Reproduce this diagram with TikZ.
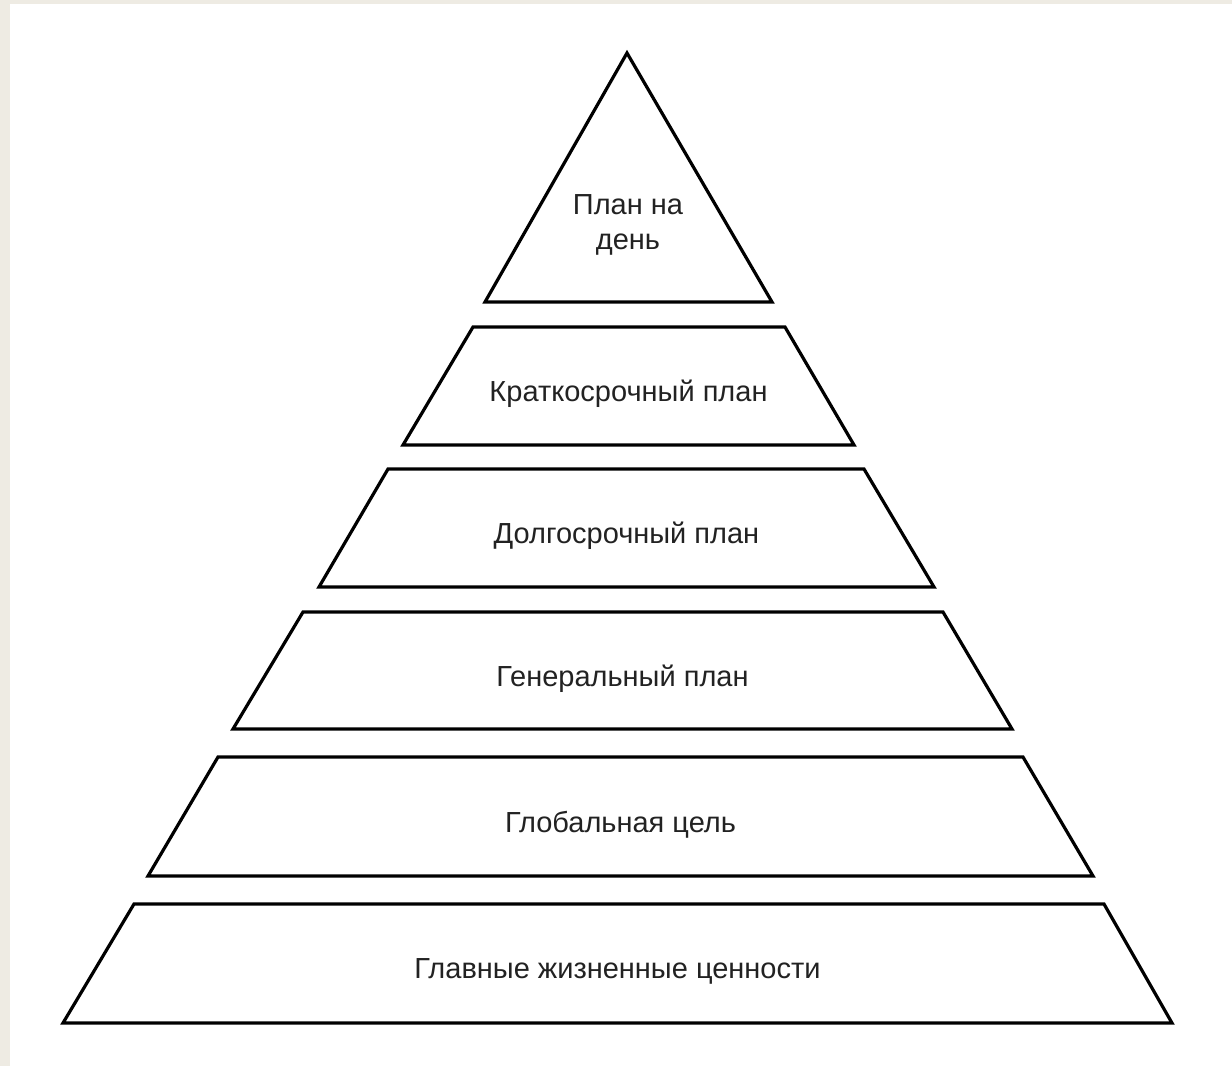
\documentclass[tikz,border=0pt]{standalone}
\usepackage{fontspec}
\setmainfont{Liberation Sans}
\definecolor{bgbeige}{RGB}{238,235,227}
\definecolor{txtgray}{RGB}{34,34,34}
\begin{document}
\begin{tikzpicture}[x=0.5pt, y=-0.5pt,
    level/.style={line width=1.6pt, draw=black},
    caption/.style={font=\fontsize{14.5}{17.5}\selectfont, text=txtgray, align=center}]
  \fill[bgbeige] (0,0) rectangle (1232,1066);
  \fill[white] (10,4) rectangle (1232,1066);
  \draw[level] (627,53) -- (772,302) -- (485,302) -- cycle;
  \node[caption] (day) at (628,225) {План на\\день};
  \foreach \yt/\yb/\tl/\tr/\bl/\br/\id/\txt in {
      327/445/473/785/403/854/short/Краткосрочный план,
      469/587/388/864/319/934/long/Долгосрочный план,
      612/729/303/943/233/1012/master/Генеральный план,
      757/876/218/1023/148/1093/goal/Глобальная цель,
      904/1023/134/1104/63/1172/values/Главные жизненные ценности}{
    \draw[level] (\tl,\yt) -- (\tr,\yt) -- (\br,\yb) -- (\bl,\yb) -- cycle;
    \node[caption] (\id) at ({(\bl+\br)/2},{(\yt+\yb)/2+8}) {\txt};
  }
\end{tikzpicture}
\end{document}
